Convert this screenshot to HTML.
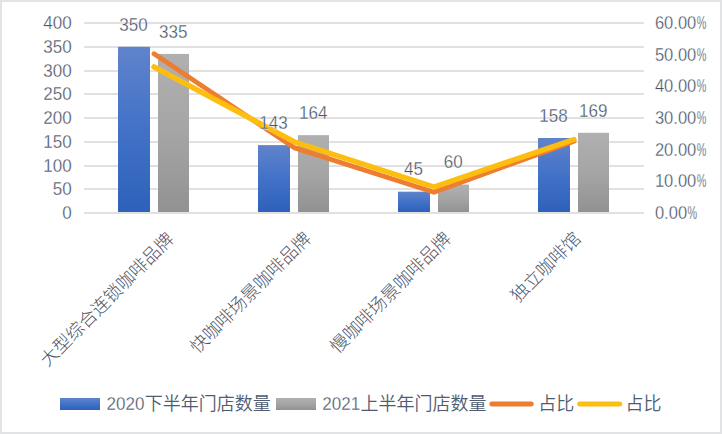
<!DOCTYPE html>
<html lang="zh-CN"><head><meta charset="utf-8"><title>chart</title>
<style>
html,body{margin:0;padding:0;background:#fff;}
body{width:722px;height:434px;overflow:hidden;position:relative;}
svg{display:block;position:absolute;left:0;top:0;}
text{font-family:"Liberation Sans","Noto Sans CJK SC",sans-serif;font-size:18px;fill:#55627a;}
.cj{font-weight:350;fill:#4f5b70;}
.cr{font-weight:300;fill:#4a566b;}
.n{stroke:#fff;stroke-width:0.3px;fill:#485265;}
.dl{stroke:#fff;stroke-width:0.3px;fill:#485265;}
</style></head><body>
<svg width="722" height="434" viewBox="0 0 722 434">
<defs>
<linearGradient id="gb" x1="0" y1="0" x2="0" y2="1"><stop offset="0" stop-color="#6083cb"/><stop offset="0.5" stop-color="#4272c8"/><stop offset="1" stop-color="#2e61ba"/></linearGradient>
<linearGradient id="gg" x1="0" y1="0" x2="0" y2="1"><stop offset="0" stop-color="#b0b0b0"/><stop offset="0.5" stop-color="#a5a5a5"/><stop offset="1" stop-color="#929292"/></linearGradient>
</defs>
<rect x="0" y="0" width="722" height="434" fill="#e2e3e5"/>
<rect x="2" y="2" width="718" height="430" fill="#ffffff"/>

<rect x="84" y="212" width="560" height="2" fill="#e1e1e1"/>
<rect x="84" y="188" width="560" height="2" fill="#e1e1e1"/>
<rect x="84" y="165" width="560" height="2" fill="#e1e1e1"/>
<rect x="84" y="141" width="560" height="2" fill="#e1e1e1"/>
<rect x="84" y="117" width="560" height="2" fill="#e1e1e1"/>
<rect x="84" y="93" width="560" height="2" fill="#e1e1e1"/>
<rect x="84" y="70" width="560" height="2" fill="#e1e1e1"/>
<rect x="84" y="46" width="560" height="2" fill="#e1e1e1"/>
<rect x="84" y="22" width="560" height="2" fill="#e1e1e1"/>
<text class="n" transform="translate(71.80 218.50) scale(0.948 1)" text-anchor="end">0</text>
<text class="n" transform="translate(71.80 194.50) scale(0.948 1)" text-anchor="end">50</text>
<text class="n" transform="translate(71.80 171.50) scale(0.948 1)" text-anchor="end">100</text>
<text class="n" transform="translate(71.80 147.50) scale(0.948 1)" text-anchor="end">150</text>
<text class="n" transform="translate(71.80 123.50) scale(0.948 1)" text-anchor="end">200</text>
<text class="n" transform="translate(71.80 99.50) scale(0.948 1)" text-anchor="end">250</text>
<text class="n" transform="translate(71.80 76.50) scale(0.948 1)" text-anchor="end">300</text>
<text class="n" transform="translate(71.80 52.50) scale(0.948 1)" text-anchor="end">350</text>
<text class="n" transform="translate(71.80 28.50) scale(0.948 1)" text-anchor="end">400</text>
<text class="n" transform="translate(654.90 218.85) scale(0.92 1)" text-anchor="start">0.00</text>
<text class="n" transform="translate(687.43 218.85) scale(0.6 1)" text-anchor="start">%</text>
<text class="n" transform="translate(654.90 187.18) scale(0.92 1)" text-anchor="start">10.00</text>
<text class="n" transform="translate(696.64 187.18) scale(0.6 1)" text-anchor="start">%</text>
<text class="n" transform="translate(654.90 155.52) scale(0.92 1)" text-anchor="start">20.00</text>
<text class="n" transform="translate(696.64 155.52) scale(0.6 1)" text-anchor="start">%</text>
<text class="n" transform="translate(654.90 123.85) scale(0.92 1)" text-anchor="start">30.00</text>
<text class="n" transform="translate(696.64 123.85) scale(0.6 1)" text-anchor="start">%</text>
<text class="n" transform="translate(654.90 92.18) scale(0.92 1)" text-anchor="start">40.00</text>
<text class="n" transform="translate(696.64 92.18) scale(0.6 1)" text-anchor="start">%</text>
<text class="n" transform="translate(654.90 60.52) scale(0.92 1)" text-anchor="start">50.00</text>
<text class="n" transform="translate(696.64 60.52) scale(0.6 1)" text-anchor="start">%</text>
<text class="n" transform="translate(654.90 28.85) scale(0.92 1)" text-anchor="start">60.00</text>
<text class="n" transform="translate(696.64 28.85) scale(0.6 1)" text-anchor="start">%</text>
<rect x="118" y="46.80" width="32" height="165.20" fill="url(#gb)"/>
<rect x="158" y="53.93" width="31" height="158.07" fill="url(#gg)"/>
<rect x="258" y="145.12" width="32" height="66.88" fill="url(#gb)"/>
<rect x="298" y="135.15" width="31" height="76.85" fill="url(#gg)"/>
<rect x="398" y="191.68" width="32" height="20.32" fill="url(#gb)"/>
<rect x="438" y="184.55" width="31" height="27.45" fill="url(#gg)"/>
<rect x="538" y="138.00" width="32" height="74.00" fill="url(#gb)"/>
<rect x="578" y="132.78" width="31" height="79.22" fill="url(#gg)"/>
<polyline points="154,53.81 294,147.59 434,192.28 574,141.16" fill="none" stroke="#ed7d31" stroke-width="4.8" stroke-linecap="round" stroke-linejoin="round"/>
<polyline points="154,66.93 294,141.71 434,186.95 574,139.54" fill="none" stroke="#fdbe10" stroke-width="5.4" stroke-linecap="round" stroke-linejoin="round"/>
<text class="dl" transform="translate(133.40 30.90) scale(0.948 1)" text-anchor="middle">350</text>
<text class="dl" transform="translate(173.30 38.03) scale(0.948 1)" text-anchor="middle">335</text>
<text class="dl" transform="translate(273.40 129.22) scale(0.948 1)" text-anchor="middle">143</text>
<text class="dl" transform="translate(313.30 119.25) scale(0.948 1)" text-anchor="middle">164</text>
<text class="dl" transform="translate(413.40 174.93) scale(0.948 1)" text-anchor="middle">45</text>
<text class="dl" transform="translate(453.30 167.80) scale(0.948 1)" text-anchor="middle">60</text>
<text class="dl" transform="translate(553.40 122.10) scale(0.948 1)" text-anchor="middle">158</text>
<text class="dl" transform="translate(593.30 116.88) scale(0.948 1)" text-anchor="middle">169</text>
<text class="cr" transform="translate(175 240.3) rotate(-45)" text-anchor="end">大型综合连锁咖啡品牌</text>
<text class="cr" transform="translate(312.2 239.8) rotate(-45)" text-anchor="end">快咖啡场景咖啡品牌</text>
<text class="cr" transform="translate(452.2 239.8) rotate(-45)" text-anchor="end">慢咖啡场景咖啡品牌</text>
<text class="cr" transform="translate(581.9 239.7) rotate(-45)" text-anchor="end">独立咖啡馆</text>
<rect x="60" y="398" width="40" height="12" fill="url(#gb)"/>
<text class="n" transform="translate(106.50 409.80) scale(0.948 1)" text-anchor="start">2020</text>
<text class="cj" x="144.7" y="409.8">下半年门店数量</text>
<rect x="276" y="398" width="40" height="12" fill="url(#gg)"/>
<text class="n" transform="translate(322.30 409.80) scale(0.948 1)" text-anchor="start">2021</text>
<text class="cj" x="360.5" y="409.8">上半年门店数量</text>
<line x1="491.7" y1="404" x2="531.4" y2="404" stroke="#ed7d31" stroke-width="4.8" stroke-linecap="round"/>
<text class="cj" x="538.3" y="409.8">占比</text>
<line x1="579.5" y1="404" x2="619.9" y2="404" stroke="#fdbe10" stroke-width="4.8" stroke-linecap="round"/>
<text class="cj" x="625.6" y="409.8">占比</text>
</svg></body></html>
